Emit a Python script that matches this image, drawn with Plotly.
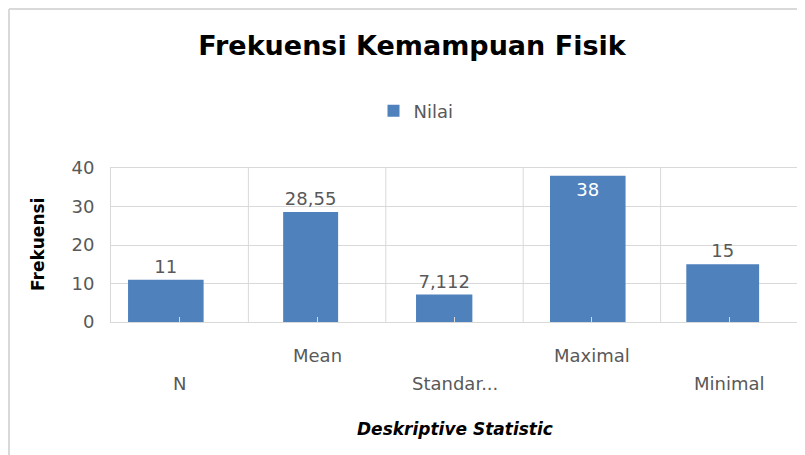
import plotly.graph_objects as go

# ---- data ----
categories = ["N", "Mean", "Standar...", "Maximal", "Minimal"]
values = [11, 28.55, 7.112, 38, 15]
series_name = "Nilai"
y_ticks = [0, 10, 20, 30, 40]
title_text = "Frekuensi Kemampuan Fisik"
y_title = "Frekuensi"
x_title = "Deskriptive Statistic"

# ---- style ----
FONT = "DejaVu Sans"
BAR = "#4F81BD"
GRID = "#D9D9D9"
LABEL = "#595959"
bar_widths = [0.55, 0.40, 0.41, 0.55, 0.53]
bar_offsets = [-0.376, -0.247, -0.28, -0.305, -0.313]

W, H = 805, 455
OFF = 8  # default page body margin
PL, PR, PT, PB = 111, 798, 168, 322  # plot area in page pixels
L, R, T, B = PL - OFF, W - (PR - OFF), PT - OFF, H - (PB - OFF)


def px_x(p):
    return (p - PL) / (PR - PL)


def px_y(p):
    return (PB - p) / (PB - PT)


def fmt(v):
    return f"{v:g}".replace(".", ",")


ymax = y_ticks[-1]
positions = ["inside" if v > 0.9 * ymax else "outside" for v in values]
tcolors = ["white" if p == "inside" else LABEL for p in positions]

fig = go.Figure()
fig.add_trace(go.Bar(
    x=categories, y=values, name=series_name,
    marker=dict(color=BAR, line=dict(width=0)),
    width=bar_widths, offset=bar_offsets,
    text=[fmt(v) for v in values],
    textposition=positions, insidetextanchor="end",
    textfont=dict(family=FONT, size=18, color=tcolors),
    outsidetextfont=dict(family=FONT, size=18, color=LABEL),
    insidetextfont=dict(family=FONT, size=18, color="white"),
    cliponaxis=True,
    showlegend=True,
))

fig.update_layout(
    width=W, height=H,
    margin=dict(l=L, r=R, t=T, b=B, pad=0),
    paper_bgcolor="white", plot_bgcolor="white",
    font=dict(family=FONT, color=LABEL),
    title=dict(text=f"<b>{title_text}</b>", x=(412 - OFF) / W, xanchor="center",
               y=1 - (46 - OFF) / H, yanchor="middle",
               font=dict(family=FONT, size=27, color="#000000")),
    legend=dict(orientation="h", x=px_x(416), xanchor="center",
                y=px_y(111), yanchor="middle",
                font=dict(family=FONT, size=18, color=LABEL),
                itemwidth=30, bgcolor="rgba(0,0,0,0)"),
    showlegend=True,
)

fig.update_xaxes(
    type="category", range=[-0.5, len(categories) - 0.5],
    showticklabels=False, showgrid=False,
    ticks="inside", ticklen=5, tickcolor=GRID, tickwidth=1,
    showline=True, linecolor=GRID, linewidth=1, mirror=True,
    zeroline=False, fixedrange=True,
)
fig.update_yaxes(
    range=[0, ymax], tickvals=y_ticks, ticktext=[str(t) for t in y_ticks],
    showgrid=True, gridcolor=GRID, gridwidth=1,
    showline=True, linecolor=GRID, linewidth=1, mirror=True,
    zeroline=False, ticks="", ticklabelstandoff=12,
    tickfont=dict(family=FONT, size=18, color=LABEL),
    fixedrange=True,
)

# category boundary gridlines
for i in range(len(categories) - 1):
    fig.add_shape(type="line", xref="x", yref="y domain",
                  x0=i + 0.5, x1=i + 0.5, y0=0, y1=1,
                  line=dict(color=GRID, width=1), layer="below")

# staggered category labels
for i, c in enumerate(categories):
    fig.add_annotation(x=c, xref="x", y=px_y(355 if i % 2 else 383), yref="paper",
                       text=c, showarrow=False, yanchor="middle",
                       font=dict(family=FONT, size=18, color=LABEL))

# axis titles
fig.add_annotation(x=px_x(455), xref="paper", y=px_y(429), yref="paper",
                   text=f"<b><i>{x_title}</i></b>", showarrow=False,
                   xanchor="center", yanchor="middle",
                   font=dict(family=FONT, size=17, color="#000000"))
fig.add_annotation(x=px_x(38), xref="paper", y=px_y(245), yref="paper",
                   text=f"<b>{y_title}</b>", showarrow=False, textangle=-90,
                   xanchor="center", yanchor="middle",
                   font=dict(family=FONT, size=17, color="#000000"))

# chart frame (left and top edges)
fig.add_shape(type="line", xref="paper", yref="paper",
              x0=px_x(9), x1=px_x(9), y0=px_y(9), y1=px_y(H + 20),
              line=dict(color=GRID, width=2))
fig.add_shape(type="line", xref="paper", yref="paper",
              x0=px_x(9), x1=px_x(W + 20), y0=px_y(9), y1=px_y(9),
              line=dict(color=GRID, width=2))

fig.write_html("out.html")
